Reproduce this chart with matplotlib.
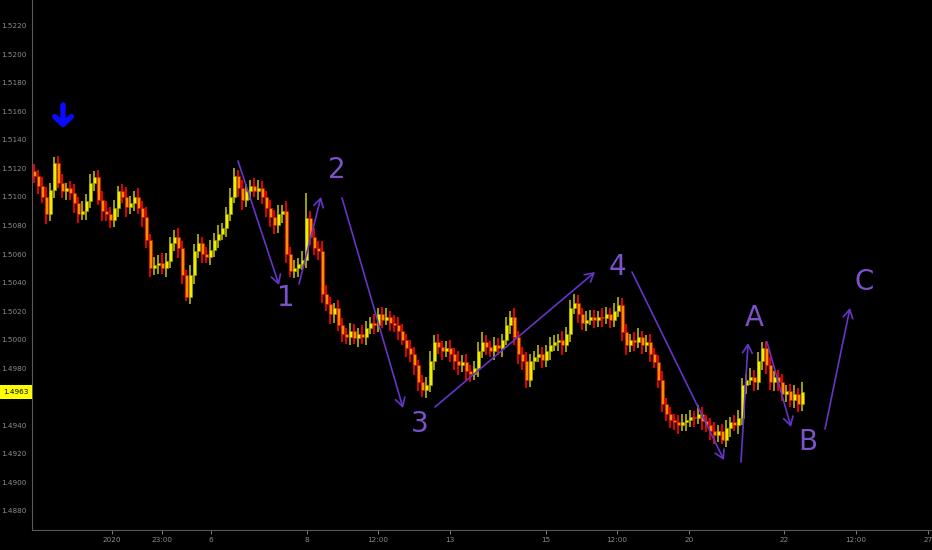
import numpy as np
import matplotlib
matplotlib.use("Agg")
import matplotlib.pyplot as plt

# closing prices, one bar per step
closes = [
    1.5115, 1.5108, 1.5100, 1.5088, 1.5105, 1.5124, 1.5110, 1.5104, 1.5106, 1.5103, 1.5096, 1.5088, 1.5090, 1.5097, 1.5110, 1.5114, 1.5098, 1.5090, 1.5088, 1.5084,
    1.5092, 1.5104, 1.5100, 1.5093, 1.5096, 1.5100, 1.5092, 1.5086, 1.5070, 1.5050, 1.5052, 1.5054, 1.5050, 1.5055, 1.5068, 1.5072, 1.5064, 1.5045, 1.5030, 1.5045,
    1.5062, 1.5068, 1.5060, 1.5058, 1.5063, 1.5070, 1.5074, 1.5078, 1.5088, 1.5100, 1.5115, 1.5106, 1.5098, 1.5104, 1.5108, 1.5104, 1.5106, 1.5100, 1.5092, 1.5086,
    1.5080, 1.5088, 1.5090, 1.5060, 1.5048, 1.5050, 1.5053, 1.5056, 1.5085, 1.5072, 1.5064, 1.5062, 1.5032, 1.5025, 1.5018, 1.5022, 1.5010, 1.5004, 1.5002, 1.5006,
    1.5001, 1.5004, 1.5002, 1.5008, 1.5012, 1.5010, 1.5018, 1.5014, 1.5016, 1.5012, 1.5010, 1.5006, 1.5000, 1.4994, 1.4990, 1.4982, 1.4970, 1.4965, 1.4968, 1.4985,
    1.4998, 1.4995, 1.4992, 1.4994, 1.4990, 1.4985, 1.4982, 1.4984, 1.4978, 1.4976, 1.4980, 1.4992, 1.4998, 1.4995, 1.4992, 1.4996, 1.4994, 1.5000, 1.5010, 1.5016,
    1.5002, 1.4990, 1.4985, 1.4972, 1.4985, 1.4988, 1.4990, 1.4986, 1.4992, 1.4996, 1.4998, 1.5000, 1.4996, 1.5004, 1.5022, 1.5026, 1.5018, 1.5012, 1.5014, 1.5016,
    1.5014, 1.5016, 1.5015, 1.5018, 1.5014, 1.5020, 1.5024, 1.5005, 1.4996, 1.5000, 1.4998, 1.5002, 1.4996, 1.4998, 1.4990, 1.4984, 1.4972, 1.4955, 1.4948, 1.4944,
    1.4942, 1.4940, 1.4942, 1.4944, 1.4946, 1.4945, 1.4948, 1.4943, 1.4940, 1.4936, 1.4933, 1.4936, 1.4930, 1.4938, 1.4942, 1.4940, 1.4945, 1.4968, 1.4972, 1.4974,
    1.4970, 1.4985, 1.4994, 1.4982, 1.4970, 1.4974, 1.4970, 1.4962, 1.4964, 1.4958, 1.4962, 1.4955, 1.4963,
]
first_open = 1.5118

# wick lengths in pips above / below the body
wick_up = [
    5, 4, 6, 7, 5, 4, 5, 6, 4, 5, 6, 4, 7, 5, 6, 4, 5, 6, 7, 5,
    6, 4, 5, 7, 5, 4, 6, 5, 7, 4, 6, 5, 7, 6, 4, 5, 6, 5, 4, 7,
    5, 6, 4, 5, 7, 5, 6, 4, 5, 6, 5, 4, 6, 5, 4, 5, 6, 5, 4, 6,
    5, 6, 4, 7, 5, 6, 4, 6, 18, 5, 6, 5, 7, 6, 5, 4, 6, 5, 4, 6,
    5, 4, 6, 5, 4, 6, 4, 5, 6, 4, 5, 6, 5, 4, 6, 5, 4, 5, 6, 7,
    5, 6, 4, 5, 6, 4, 7, 5, 6, 4, 5, 6, 7, 5, 4, 6, 5, 4, 6, 4,
    6, 4, 5, 6, 5, 4, 6, 5, 4, 6, 5, 4, 6, 5, 6, 6, 5, 4, 6, 5,
    5, 4, 6, 5, 4, 6, 6, 5, 6, 4, 5, 6, 4, 5, 6, 4, 5, 6, 4, 5,
    4, 5, 6, 4, 5, 4, 6, 5, 4, 5, 6, 4, 5, 6, 4, 5, 6, 5, 4, 6,
    5, 6, 4, 5, 6, 4, 5, 6, 4, 5, 6, 4, 7,
]
wick_dn = [
    5, 6, 4, 7, 5, 6, 4, 5, 6, 5, 7, 6, 4, 6, 5, 6, 4, 7, 5, 6,
    5, 6, 4, 7, 5, 6, 4, 7, 6, 6, 5, 6, 4, 6, 5, 6, 7, 6, 3, 5,
    6, 5, 6, 4, 6, 5, 6, 4, 6, 5, 4, 6, 7, 5, 6, 4, 6, 5, 6, 7,
    6, 5, 6, 6, 4, 5, 6, 4, 6, 6, 5, 6, 6, 5, 7, 6, 4, 6, 5, 6,
    4, 6, 5, 6, 4, 6, 5, 6, 4, 6, 5, 6, 4, 6, 6, 7, 6, 5, 6, 5,
    6, 5, 6, 4, 6, 6, 7, 5, 6, 6, 4, 6, 5, 6, 4, 6, 5, 6, 4, 6,
    6, 7, 6, 6, 5, 6, 4, 6, 5, 6, 4, 6, 7, 5, 6, 4, 6, 5, 6, 4,
    6, 5, 6, 4, 6, 5, 4, 6, 7, 5, 6, 4, 6, 5, 6, 4, 6, 6, 5, 6,
    5, 6, 4, 6, 5, 6, 4, 6, 5, 6, 6, 5, 3, 5, 6, 4, 6, 5, 6, 4,
    6, 5, 6, 6, 5, 6, 6, 5, 6, 5, 6, 6, 5,
]

last_price = 1.4963

# x axis labels (bar index positions)
xtick_pos = [19.5, 32, 44.25, 68.25, 86, 104, 128, 145.75, 163.75, 187.5, 205.5, 223.5]
xtick_lab = ["2020", "23:00", "6", "8", "12:00", "13", "15", "12:00", "20", "22", "12:00", "27"]
yticks = np.arange(1.4880, 1.52201, 0.0020)

# elliott wave drawings: (x0, y0, x1, y1), arrow head at the end
wave_lines = [
    (51.0, 1.51252, 61.25, 1.50383),
    (66.25, 1.50390, 71.75, 1.51000),
    (77.0, 1.50993, 92.25, 1.49521),
    (100.25, 1.49528, 140.25, 1.50474),
    (149.5, 1.50474, 172.5, 1.49156),
    (176.75, 1.49142, 178.5, 1.49976),
    (183.25, 1.49983, 189.25, 1.49388),
    (197.75, 1.49374, 204.0, 1.50222),
]
wave_labels = ["1", "2", "3", "4", "A", "B", "C"]
wave_label_x = [63, 75.75, 96.5, 145.75, 180, 193.5, 207.5]
wave_label_y = [1.50292, 1.51189, 1.49409, 1.50509, 1.50152, 1.49283, 1.50404]

closes = np.array(closes)
opens = np.concatenate([[first_open], closes[:-1]])
idx = np.arange(len(closes))
body_top = np.maximum(opens, closes)
body_bot = np.minimum(opens, closes)
highs = body_top + np.array(wick_up) * 0.0001
lows = body_bot - np.array(wick_dn) * 0.0001
up = closes >= opens

fig = plt.figure(figsize=(9.32, 5.5), dpi=100, facecolor="black")
ax = fig.add_axes([32 / 932, 20 / 550, 900 / 932, 530 / 550])
ax.set_facecolor("black")

edge_col = np.where(up, "#a0a000", "#e80000")
face_col = np.where(up, "#eeee00", "#ff8c00")
ax.vlines(idx, lows, highs, colors=edge_col, lw=1.4, zorder=2)
ax.bar(idx, np.maximum(body_top - body_bot, 0.00005), bottom=body_bot, width=0.75,
       color=face_col, edgecolor=edge_col, linewidth=0.4, zorder=3)

line_col = "#6535c8"
text_col = "#7c52c8"
for x0, y0, x1, y1 in wave_lines:
    ax.annotate("", xy=(x1, y1), xytext=(x0, y0),
                arrowprops=dict(arrowstyle="->,head_length=0.6,head_width=0.35",
                                color=line_col, lw=1.2, shrinkA=0, shrinkB=0), zorder=4)
for lab, lx, ly in zip(wave_labels, wave_label_x, wave_label_y):
    ax.text(lx, ly, lab, color=text_col, fontsize=20, ha="center", va="center", zorder=5)

# blue down arrow over the top
ax.annotate("", xy=(7.25, 1.51483), xytext=(7.25, 1.51644),
            arrowprops=dict(arrowstyle="->,head_length=0.55,head_width=0.6",
                            color="#0a0aff", lw=4, shrinkA=0, shrinkB=0), zorder=5)

ax.set_xlim(-0.5, 224.5)
ax.set_ylim(1.48666, 1.5238)

# the 1.4960 label sits under the last-price box
ylabels = ["%.4f" % v for v in yticks]
ylabels[4] = ""
ax.set_yticks(yticks)
ax.set_yticklabels(ylabels)
ax.set_xticks(xtick_pos)
ax.set_xticklabels(xtick_lab)
ax.tick_params(colors="#8c8c8c", labelsize=5.2, width=0.6)
ax.tick_params(axis="y", length=0, pad=4)
ax.tick_params(axis="x", length=3, pad=2)
for s in ["top", "right"]:
    ax.spines[s].set_visible(False)
for s in ["left", "bottom"]:
    ax.spines[s].set_color("#5a5a5a")
    ax.spines[s].set_linewidth(0.8)

# last price marker on the axis
ax.annotate("%.4f" % last_price, xy=(-0.004, last_price), xycoords=("axes fraction", "data"),
            ha="right", va="center", fontsize=5.2, color="black",
            bbox=dict(boxstyle="square,pad=0.55", fc="#ffff00", ec="none"), zorder=6,
            annotation_clip=False)

fig.savefig("out.png", dpi=100, facecolor="black")
